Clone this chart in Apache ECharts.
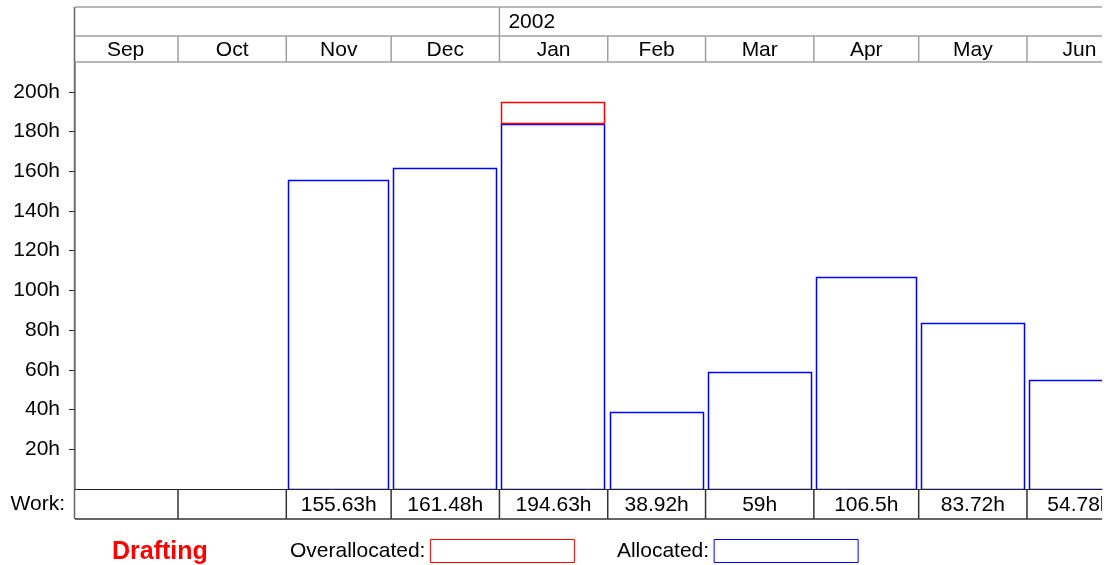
<!DOCTYPE html>
<html>
<head>
<meta charset="utf-8">
<script src="https://cdn.jsdelivr.net/npm/echarts@6/dist/echarts.min.js"></script>
<style>
  html, body { margin: 0; padding: 0; background: #fff; }
  #resourceGraph { width: 1107px; height: 565px; }
</style>
</head>
<body>
<div id="resourceGraph"></div>
<script>
// resource graph data (Drafting)
var months = ['Sep', 'Oct', 'Nov', 'Dec', 'Jan', 'Feb', 'Mar', 'Apr', 'May', 'Jun'];
var monthStarts = ['2001-09-01', '2001-10-01', '2001-11-01', '2001-12-01', '2002-01-01',
  '2002-02-01', '2002-03-01', '2002-04-01', '2002-05-01', '2002-06-01', '2002-07-01'];
var years = ['2001', '2002'];
var yearStarts = ['2001-01-01', '2002-01-01', '2003-01-01'];
var workHours = [null, null, 155.63, 161.48, 194.63, 38.92, 59, 106.5, 83.72, 54.78];
var allocatedHours = [0, 0, 155.63, 161.48, 184, 38.92, 59, 106.5, 83.72, 54.78];
var overallocatedHours = [0, 0, 0, 0, 10.63, 0, 0, 0, 0, 0];
var yTicks = [20, 40, 60, 80, 100, 120, 140, 160, 180, 200];

var FONT = '"Liberation Sans", Arial, sans-serif';

function day(s) {
  var p = s.split('-').map(Number);
  return Date.UTC(p[0], p[1] - 1, p[2]);
}
var DAY = 86400000;
var xMin = day('2001-09-01') + 0.52 * DAY;
var xMax = day('2002-06-01') + 21.47 * DAY;

// bar rows: [start, end, low, high]
var allocData = [], overData = [], monthData = [], workData = [];
months.forEach(function (m, i) {
  var s = day(monthStarts[i]), e = day(monthStarts[i + 1]);
  monthData.push([s, e, 0]);
  workData.push([s, e, 0]);
  if (allocatedHours[i] > 0) allocData.push([s, e, 0, allocatedHours[i]]);
  if (overallocatedHours[i] > 0) overData.push([s, e, allocatedHours[i], allocatedHours[i] + overallocatedHours[i]]);
});
var yearData = years.map(function (y, i) {
  return [day(yearStarts[i]), day(yearStarts[i + 1]), 0];
});

function outlineBar(color) {
  return function (params, api) {
    var a = api.coord([api.value(0), api.value(2)]);
    var b = api.coord([api.value(1), api.value(3)]);
    return {
      type: 'rect',
      shape: { x: Math.round(a[0]) + 2.5, y: Math.round(b[1]) + 0.5, width: Math.round(b[0] - a[0]) - 5, height: Math.round(a[1] - b[1]) },
      style: { fill: 'none', stroke: color, lineWidth: 1.5 }
    };
  };
}

var chart = echarts.init(document.getElementById('resourceGraph'));
chart.setOption({
  animation: false,
  title: {
    text: 'Drafting', left: 107, top: 535,
    textStyle: { color: '#ff0000', fontSize: 25, fontWeight: 'bold', fontFamily: FONT }
  },
  legend: {
    left: 285, top: 534, align: 'right', itemWidth: 144, itemHeight: 23, itemGap: 42,
    selectedMode: false,
    formatter: function (n) { return n + ':'; },
    textStyle: { fontSize: 21, color: '#000', fontFamily: FONT },
    data: [
      { name: 'Overallocated', icon: 'rect', itemStyle: { color: '#fff', borderColor: '#ff0000', borderWidth: 1 } },
      { name: 'Allocated', icon: 'rect', itemStyle: { color: '#fff', borderColor: '#0000ff', borderWidth: 1 } }
    ]
  },
  grid: [
    { left: 75, right: 5, top: 5, height: 58 },
    { left: 75, right: 5, top: 62, bottom: 76 },
    { left: 75, right: 5, top: 488, height: 32 }
  ],
  xAxis: [
    { type: 'time', gridIndex: 0, min: xMin, max: xMax, show: false },
    {
      type: 'time', gridIndex: 1, min: xMin, max: xMax,
      axisLine: { lineStyle: { color: '#222', width: 1 } },
      axisTick: { show: false }, axisLabel: { show: false }, splitLine: { show: false }
    },
    { type: 'time', gridIndex: 2, min: xMin, max: xMax, show: false }
  ],
  yAxis: [
    { type: 'value', gridIndex: 0, min: 0, max: 1, show: false },
    {
      type: 'value', gridIndex: 1, min: 0, max: 215,
      axisLine: { show: true, lineStyle: { color: '#7a7a7a', width: 1.5 } },
      axisTick: { show: true, length: 6, customValues: yTicks, lineStyle: { color: '#333' } },
      axisLabel: {
        customValues: yTicks, margin: 15, fontSize: 21, color: '#000', fontFamily: FONT,
        formatter: function (v) { return v + 'h'; }
      },
      splitLine: { show: false }
    },
    {
      type: 'category', gridIndex: 2, data: ['Work:'],
      axisLine: { show: false }, axisTick: { show: false },
      axisLabel: { margin: 10, fontSize: 21, color: '#000', fontFamily: FONT }
    }
  ],
  graphic: [
    { type: 'line', shape: { x1: 74.5, y1: 7, x2: 74.5, y2: 519 }, style: { stroke: '#666', lineWidth: 1.5 } }
  ],
  series: [
    {
      name: 'Year', type: 'custom', xAxisIndex: 0, yAxisIndex: 0, clip: true,
      data: yearData,
      renderItem: function (params, api) {
        var x0 = api.coord([api.value(0), 0])[0], x1 = api.coord([api.value(1), 0])[0];
        return {
          type: 'group', children: [
            { type: 'line', shape: { x1: x0, y1: 7, x2: x1, y2: 7 }, style: { stroke: '#a0a0a0', lineWidth: 1.5 } },
            { type: 'line', shape: { x1: x0, y1: 7, x2: x0, y2: 36 }, style: { stroke: '#a0a0a0', lineWidth: 1.5 } },
            { type: 'text', x: x0 + 9, y: 22, style: { text: years[params.dataIndex], align: 'left', verticalAlign: 'middle', font: '21px ' + FONT, fill: '#000' } }
          ]
        };
      }
    },
    {
      name: 'Month', type: 'custom', xAxisIndex: 0, yAxisIndex: 0, clip: true,
      data: monthData,
      renderItem: function (params, api) {
        var x0 = api.coord([api.value(0), 0])[0], x1 = api.coord([api.value(1), 0])[0];
        return {
          type: 'group', children: [
            { type: 'line', shape: { x1: x0, y1: 36, x2: x1, y2: 36 }, style: { stroke: '#a0a0a0', lineWidth: 1.5 } },
            { type: 'line', shape: { x1: x0, y1: 62, x2: x1, y2: 62 }, style: { stroke: '#a0a0a0', lineWidth: 1.5 } },
            { type: 'line', shape: { x1: x1, y1: 36, x2: x1, y2: 62 }, style: { stroke: '#a0a0a0', lineWidth: 1.5 } },
            { type: 'text', x: (x0 + x1) / 2, y: 50, style: { text: months[params.dataIndex], align: 'center', verticalAlign: 'middle', font: '21px ' + FONT, fill: '#000' } }
          ]
        };
      }
    },
    {
      name: 'Allocated', type: 'custom', xAxisIndex: 1, yAxisIndex: 1, clip: true,
      data: allocData, encode: { x: [0, 1], y: [2, 3] },
      renderItem: outlineBar('#0000ff')
    },
    {
      name: 'Overallocated', type: 'custom', xAxisIndex: 1, yAxisIndex: 1, clip: true,
      data: overData, encode: { x: [0, 1], y: [2, 3] },
      renderItem: outlineBar('#ff0000')
    },
    {
      name: 'Work', type: 'custom', xAxisIndex: 2, yAxisIndex: 2, clip: true,
      data: workData,
      renderItem: function (params, api) {
        var x0 = api.coord([api.value(0), 0])[0], x1 = api.coord([api.value(1), 0])[0];
        var w = workHours[params.dataIndex];
        return {
          type: 'group', children: [
            { type: 'line', shape: { x1: x0, y1: 519, x2: x1, y2: 519 }, style: { stroke: '#333', lineWidth: 1.5 } },
            { type: 'line', shape: { x1: x1, y1: 489, x2: x1, y2: 519 }, style: { stroke: '#333', lineWidth: 1.5 } },
            { type: 'text', x: (x0 + x1) / 2, y: 505, style: { text: w == null ? '' : w + 'h', align: 'center', verticalAlign: 'middle', font: '21px ' + FONT, fill: '#000' } }
          ]
        };
      }
    }
  ]
});
</script>
</body>
</html>
